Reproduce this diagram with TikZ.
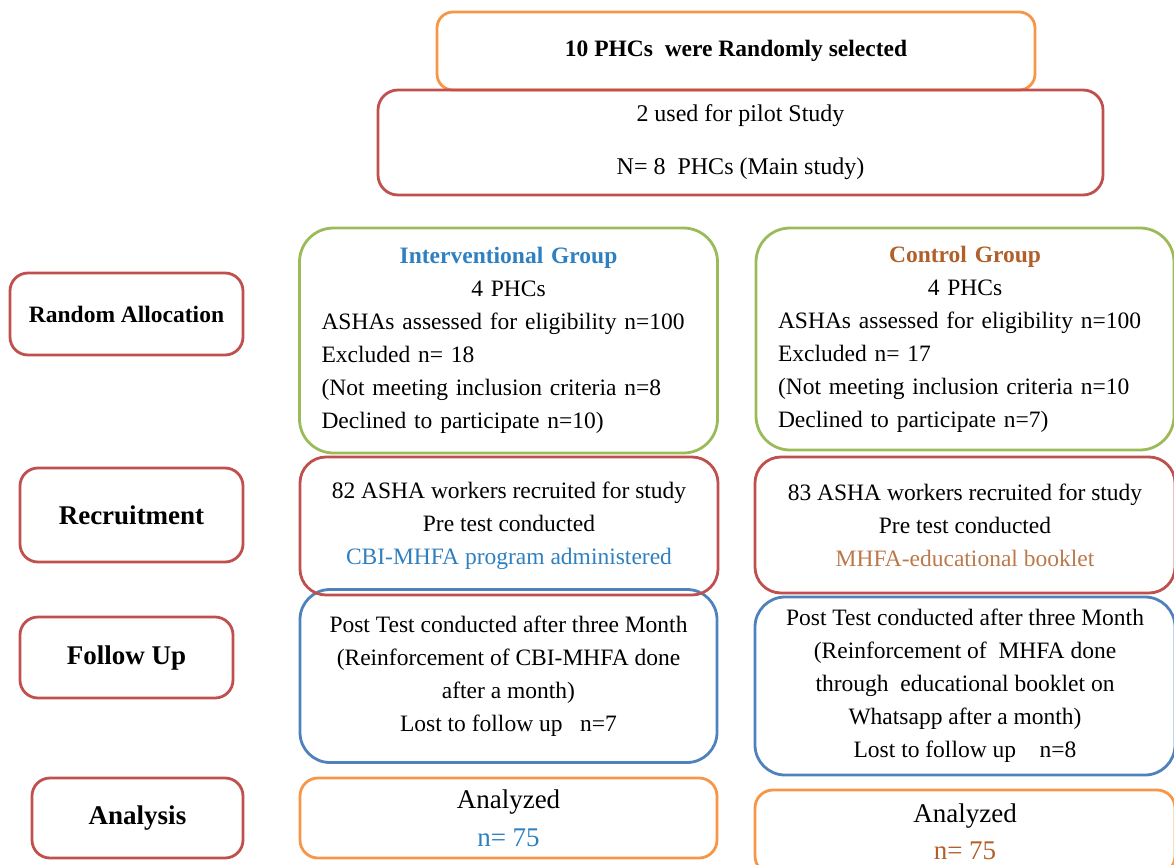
\documentclass[tikz,border=0pt]{standalone}
\usepackage{fontspec}
\setmainfont{Liberation Serif}
\setlength{\parindent}{0pt}
\setlength{\parskip}{0pt}
\definecolor{stagered}{HTML}{C0504D}
\definecolor{armgreen}{HTML}{9BBB59}
\definecolor{followblue}{HTML}{4F81BD}
\definecolor{countorange}{HTML}{F79646}
\definecolor{intvblue}{HTML}{2E80C0}
\definecolor{ctrlbrown}{HTML}{B0602A}
\newcommand{\bodyfont}{\fontsize{23.5}{33}\selectfont}
\newcommand{\stagefont}{\bfseries\fontsize{27}{32}\selectfont}
\tikzset{
  flowbox/.style={draw=#1, line width=2.8pt, rounded corners=18pt, inner sep=0pt, align=center, font=\bodyfont},
  stage/.style={flowbox=stagered, font=\stagefont},
  armbox/.style={flowbox=armgreen, rounded corners=34pt, align=left, inner xsep=22pt, text width=374pt},
}

\begin{document}
\begin{tikzpicture}[x=1pt, y=-1pt]
\useasboundingbox (0,0) rectangle (1174,864);

% selection of PHCs
\node[flowbox=countorange, minimum width=598, minimum height=78, rounded corners=16pt, font=\bfseries\fontsize{23.5}{28}\selectfont] (sel) at (736,51) {10 PHCs\ \ were Randomly selected};
\node[flowbox=stagered, minimum width=725, minimum height=105, rounded corners=20pt, font=\fontsize{24}{53}\selectfont] (pilot) at (740.5,142.5) {2 used for pilot Study\\N= 8\ \ PHCs (Main study)};

% stage labels
\node[stage, minimum width=233, minimum height=82, font=\bfseries\fontsize{23.5}{28}\selectfont] (alloc) at (126.5,314) {Random Allocation};
\node[stage, minimum width=223, minimum height=94] (recr) at (131.5,515) {Recruitment};
\node[stage, minimum width=213, minimum height=81] (follow) at (126.5,657.5) {Follow Up};
\node[stage, minimum width=211, minimum height=80] (anal) at (137.5,818) {Analysis};

% interventional arm
\node[armbox, minimum height=225] (intv) at (508.5,340.5) {{\centering\textcolor{intvblue}{\bfseries Interventional Group}\\4 PHCs\par}ASHAs assessed for eligibility n=100\\Excluded n= 18\\(Not meeting inclusion criteria n=8\\Declined to participate n=10)};
\node[flowbox=followblue, minimum width=417, minimum height=173, rounded corners=30pt] (intvfu) at (508.5,676) {Post Test conducted after three Month\\(Reinforcement of CBI-MHFA done\\after a month)\\Lost to follow up\ \ \ n=7};
\node[flowbox=stagered, minimum width=418, minimum height=138, rounded corners=26pt] (intvrec) at (509,526) {82 ASHA workers recruited for study\\Pre test conducted\\\textcolor{intvblue}{CBI-MHFA program administered}};
\node[flowbox=countorange, minimum width=417, minimum height=80, font=\fontsize{27}{38}\selectfont] (intvan) at (508.5,818) {Analyzed\\\textcolor{intvblue}{n= 75}};

% control arm
\node[armbox, minimum height=222] (ctrl) at (965,339) {{\centering\textcolor{ctrlbrown}{\bfseries Control Group}\\4 PHCs\par}ASHAs assessed for eligibility n=100\\Excluded n= 17\\(Not meeting inclusion criteria n=10\\Declined to participate n=7)};
\node[flowbox=followblue, minimum width=420, minimum height=178, rounded corners=30pt] (ctrlfu) at (965,686) {Post Test conducted after three Month\\(Reinforcement of\ \ MHFA done\\through\ \ educational booklet on\\Whatsapp after a month)\\Lost to follow up\ \ \ \ n=8};
\node[flowbox=stagered, minimum width=420, minimum height=136, rounded corners=26pt] (ctrlrec) at (965,525) {83 ASHA workers recruited for study\\Pre test conducted\\\textcolor{ctrlbrown!85}{MHFA-educational booklet}};
\node[flowbox=countorange, minimum width=420, minimum height=84, font=\fontsize{27}{37}\selectfont] (ctrlan) at (965,832) {Analyzed\\\textcolor{ctrlbrown}{n= 75}};

\end{tikzpicture}
\end{document}
